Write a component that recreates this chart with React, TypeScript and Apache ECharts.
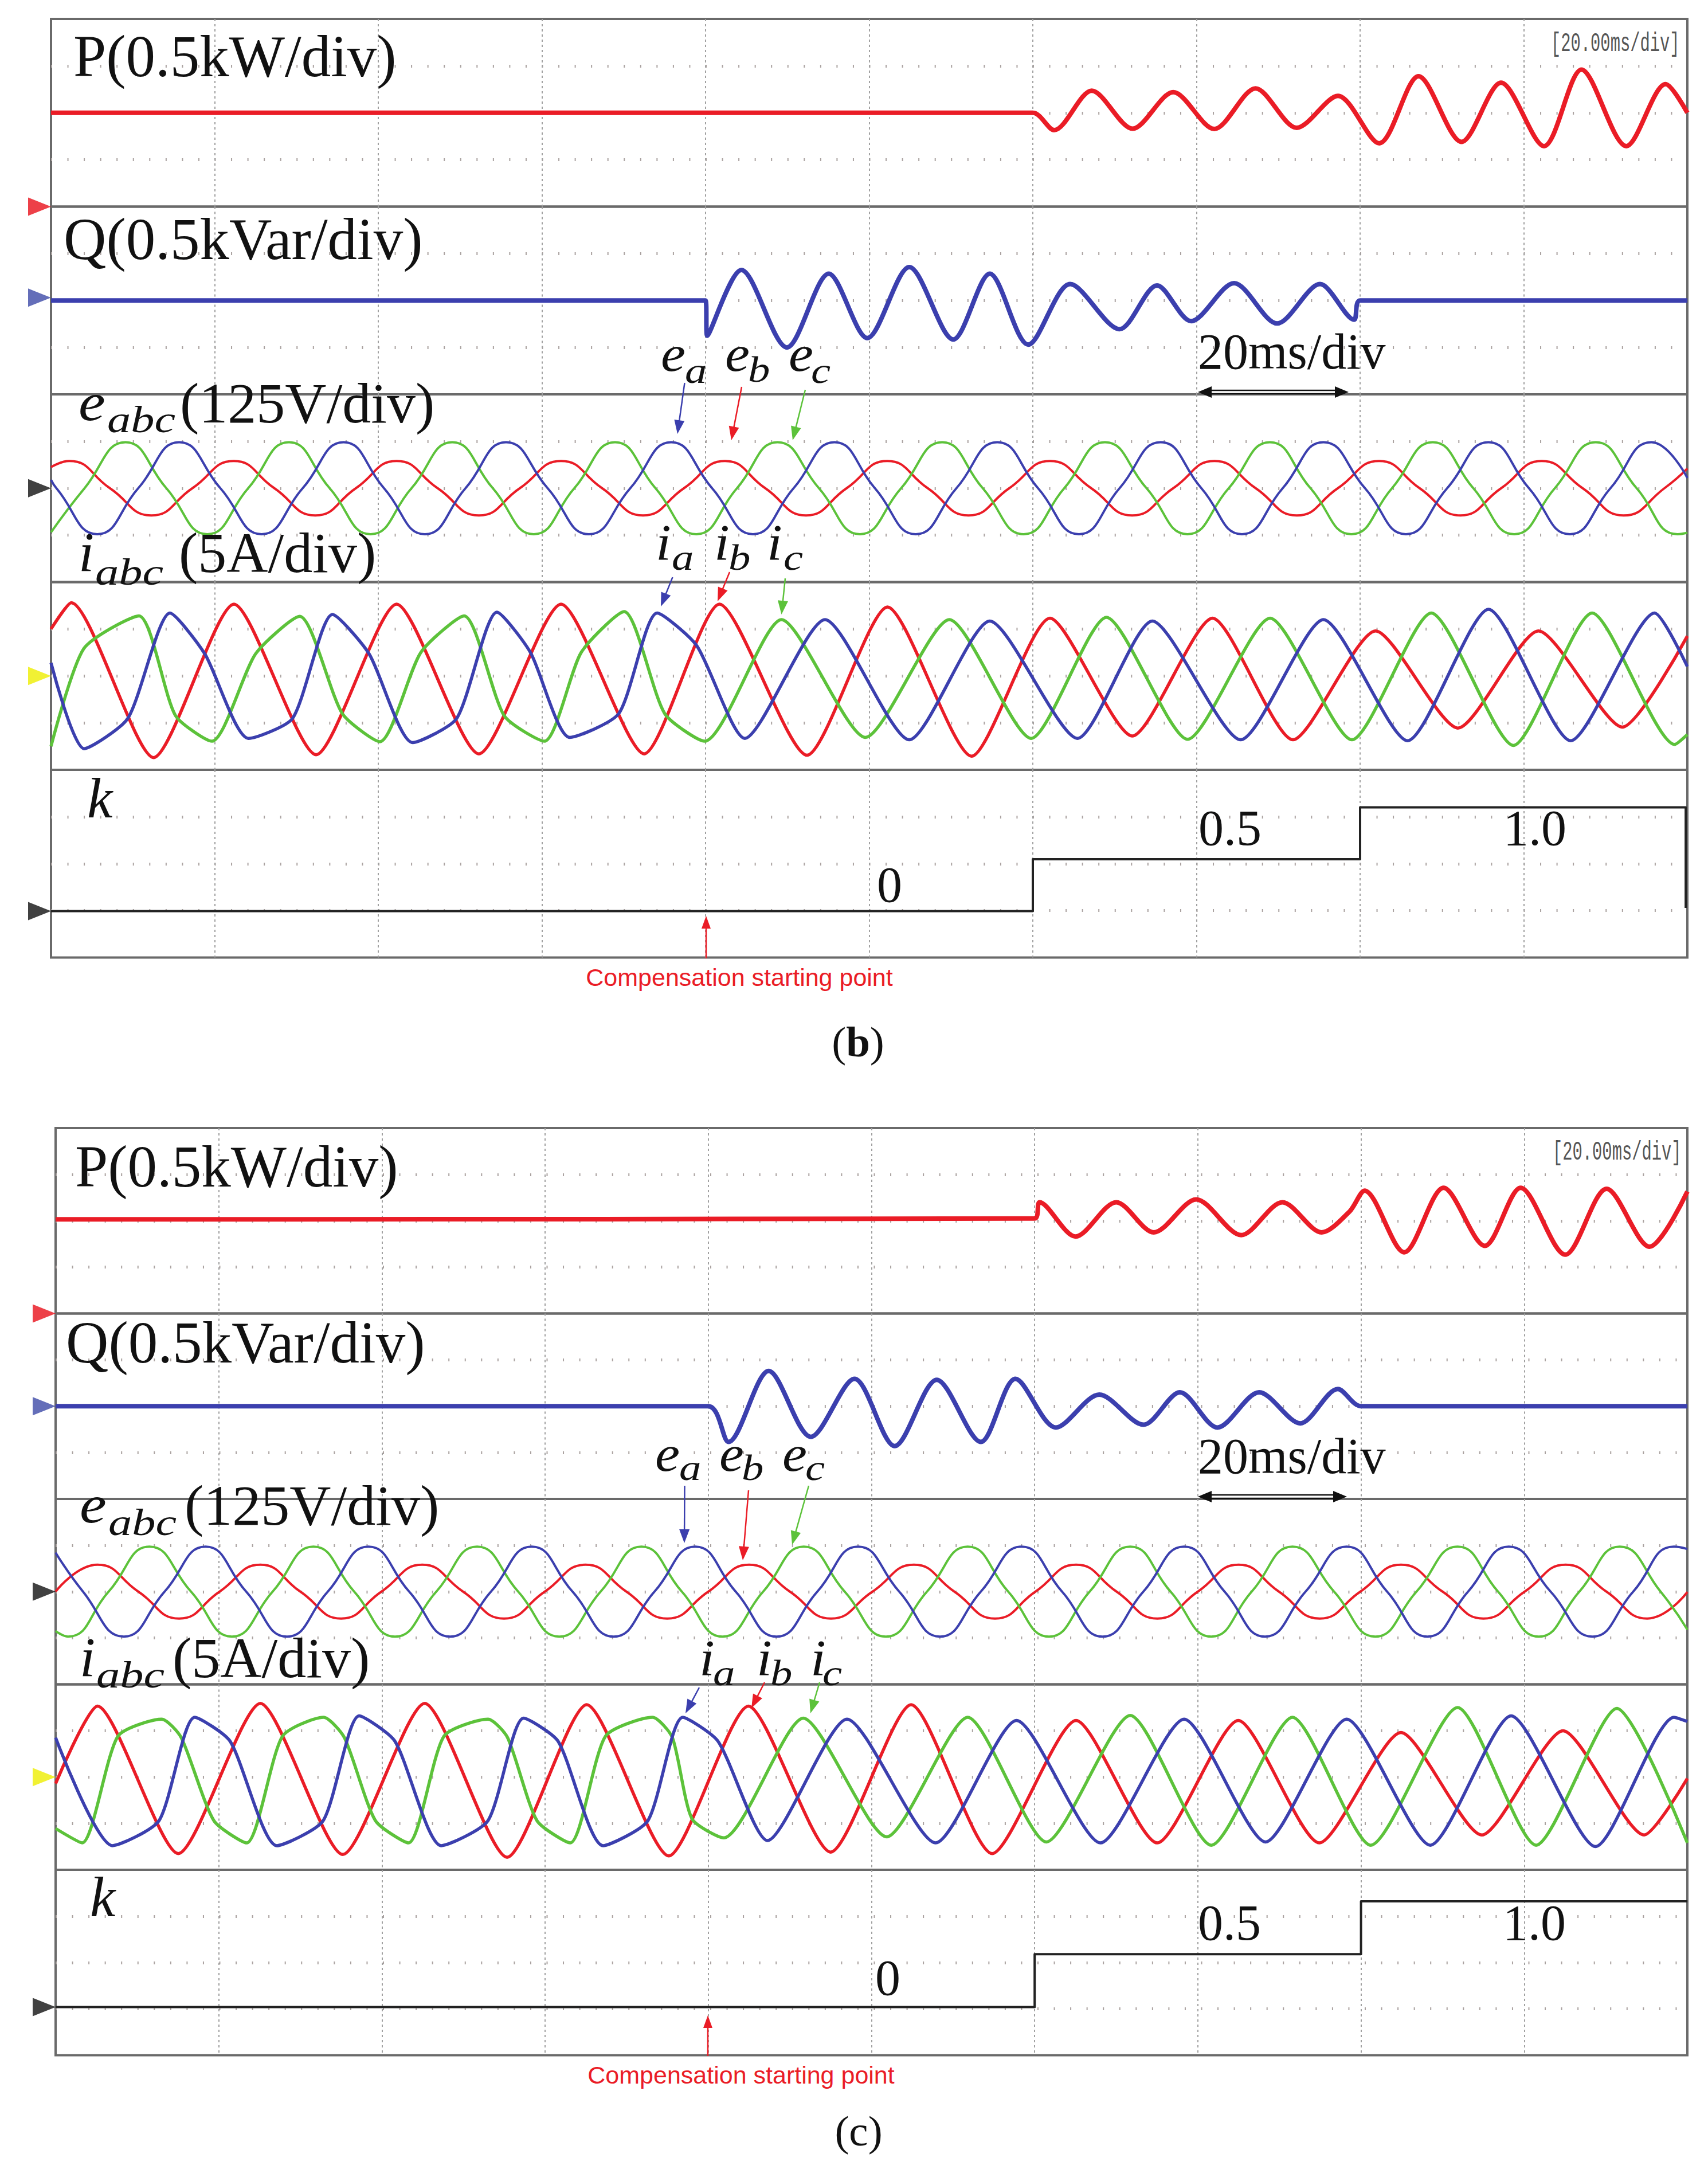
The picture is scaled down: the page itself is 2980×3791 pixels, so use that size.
import React, { useEffect, useRef } from "react";
import * as echarts from "echarts";

// ---------- DATA (time in divisions of 20 ms, values in vertical divisions of each band) ----------
// Panel (b)
const P_B = [[0,0],[6.0,0],[6.13,-0.37],[6.36,0.47],[6.61,-0.34],[6.858,0.44],[7.109,-0.345],[7.361,0.52],[7.613,-0.32],[7.865,0.36],[8.117,-0.65],[8.357,0.78],[8.62,-0.62],[8.861,0.64],[9.124,-0.71],[9.353,0.92],[9.627,-0.71],[9.867,0.61],[10,0]];
const Q_B = [[0,0],[4.0,0],[4.01,-0.75],[4.219,0.65],[4.497,-1.0],[4.753,0.57],[4.988,-0.8],[5.245,0.71],[5.514,-0.83],[5.737,0.57],[5.972,-0.94],[6.228,0.35],[6.53,-0.61],[6.759,0.32],[6.967,-0.44],[7.23,0.37],[7.493,-0.49],[7.755,0.35],[7.963,-0.41],[8.0,0],[10,0]];
const EB_B = [[0,0.45],[0.112,0.58],[0.36,0],[0.614,-0.58],[0.864,0],[1.117,0.58],[1.365,0],[1.615,-0.58],[1.863,0],[2.112,0.58],[2.363,0],[2.615,-0.58],[2.865,0],[3.117,0.58],[3.368,0],[3.618,-0.58],[3.868,0],[4.119,0.58],[4.365,0],[4.614,-0.58],[4.862,0],[5.11,0.58],[5.358,0],[5.607,-0.58],[5.856,0],[6.105,0.58],[6.357,0],[6.607,-0.58],[6.858,0],[7.11,0.58],[7.362,0],[7.613,-0.58],[7.864,0],[8.116,0.58],[8.364,0],[8.613,-0.58],[8.862,0],[9.11,0.58],[9.36,0],[9.61,-0.58],[9.86,0],[10,0.42]];
const EC_B = [[0,-0.94],[0.205,0],[0.455,0.98],[0.705,0],[0.955,-0.98],[1.205,0],[1.454,0.98],[1.703,0],[1.953,-0.98],[2.203,0],[2.452,0.98],[2.7,0],[2.95,-0.98],[3.198,0],[3.447,0.98],[3.694,0],[3.944,-0.98],[4.192,0],[4.44,0.98],[4.693,0],[4.943,-0.98],[5.195,0],[5.446,0.98],[5.694,0],[5.944,-0.98],[6.192,0],[6.441,0.98],[6.695,0],[6.945,-0.98],[7.197,0],[7.449,0.98],[7.697,0],[7.947,-0.98],[8.195,0],[8.444,0.98],[8.692,0],[8.942,-0.98],[9.19,0],[9.44,0.98],[9.69,0],[9.94,-0.98],[10,-0.95]];
const EA_B = [[0,0.18],[0.033,0],[0.283,-0.98],[0.533,0],[0.783,0.98],[1.035,0],[1.287,-0.98],[1.538,0],[1.788,0.98],[2.035,0],[2.285,-0.98],[2.533,0],[2.781,0.98],[3.035,0],[3.287,-0.98],[3.54,0],[3.79,0.98],[4.04,0],[4.29,-0.98],[4.538,0],[4.788,0.98],[5.035,0],[5.285,-0.98],[5.533,0],[5.783,0.98],[6.032,0],[6.282,-0.98],[6.53,0],[6.781,0.98],[7.03,0],[7.278,-0.98],[7.527,0],[7.776,0.98],[8.03,0],[8.28,-0.98],[8.532,0],[8.784,0.98],[9.032,0],[9.282,-0.98],[9.53,0],[9.78,0.98],[10,0.22]];
const IB_B = [[0,1.0],[0.124,1.56],[0.627,-1.74],[1.118,1.53],[1.62,-1.68],[2.112,1.53],[2.615,-1.66],[3.117,1.53],[3.625,-1.66],[4.085,1.53],[4.62,-1.69],[5.112,1.47],[5.626,-1.71],[6.105,1.23],[6.608,-1.28],[7.098,1.23],[7.59,-1.36],[8.095,0.96],[8.598,-1.11],[9.09,0.96],[9.603,-1.09],[10,0.85]];
const IC_B = [[0,-1.5],[0.2,0.58],[0.537,1.28],[0.76,-0.84],[0.984,-1.39],[1.25,0.47],[1.52,1.27],[1.78,-0.8],[2.01,-1.4],[2.26,0.5],[2.525,1.28],[2.77,-0.85],[3.016,-1.39],[3.24,0.5],[3.503,1.37],[3.75,-0.8],[3.995,-1.39],[4.464,1.2],[4.977,-1.31],[5.49,1.2],[5.99,-1.33],[6.45,1.25],[6.946,-1.35],[7.45,1.23],[7.95,-1.36],[8.435,1.34],[8.937,-1.48],[9.418,1.34],[9.923,-1.46],[10,-1.25]];
const IA_B = [[0,0.28],[0.202,-1.55],[0.47,-0.9],[0.727,1.34],[0.94,0.47],[1.207,-1.33],[1.477,-0.9],[1.72,1.31],[1.944,0.47],[2.21,-1.42],[2.48,-0.9],[2.725,1.36],[2.93,0.5],[3.17,-1.31],[3.47,-0.8],[3.704,1.34],[3.947,0.64],[4.24,-1.33],[4.73,1.2],[5.245,-1.36],[5.737,1.17],[6.273,-1.33],[6.73,1.17],[7.27,-1.36],[7.776,1.2],[8.29,-1.38],[8.785,1.42],[9.287,-1.38],[9.8,1.34],[10,0.2]];
const K_B = [[0,0],[6,0],[6,0.5],[8,0.5],[8,1],[9.99,1],[9.99,0.03]];

// Panel (c)
const P_C = [[0,0.03],[6.0,0.05],[6.03,0.4],[6.25,-0.34],[6.5,0.4],[6.73,-0.25],[6.99,0.46],[7.266,-0.31],[7.518,0.4],[7.759,-0.25],[7.93,0.2],[8.022,0.65],[8.265,-0.68],[8.506,0.71],[8.759,-0.54],[8.978,0.71],[9.252,-0.73],[9.505,0.69],[9.768,-0.56],[10,0.63]];
const Q_C = [[0,0],[4.0,0],[4.124,-0.77],[4.37,0.76],[4.628,-0.66],[4.896,0.59],[5.142,-0.86],[5.4,0.57],[5.67,-0.77],[5.882,0.59],[6.13,-0.46],[6.396,0.25],[6.667,-0.4],[6.89,0.3],[7.12,-0.46],[7.376,0.3],[7.628,-0.37],[7.858,0.37],[8.0,0],[10,0]];
const EB_C = [[0,0],[0.257,0.58],[0.507,0],[0.757,-0.58],[1.005,0],[1.255,0.58],[1.5,0],[1.75,-0.58],[1.997,0],[2.247,0.58],[2.497,0],[2.748,-0.58],[2.998,0],[3.248,0.58],[3.498,0],[3.748,-0.58],[4.0,0],[4.25,0.58],[4.5,0],[4.752,-0.58],[5.006,0],[5.26,0.58],[5.508,0],[5.757,-0.58],[6.005,0],[6.254,0.58],[6.502,0],[6.752,-0.58],[7.0,0],[7.25,0.58],[7.497,0],[7.747,-0.58],[7.996,0],[8.245,0.58],[8.5,0],[8.75,-0.58],[9.003,0],[9.254,0.58],[9.504,0],[9.754,-0.58],[10,-0.01]];
const EC_C = [[0,-0.85],[0.075,-0.97],[0.325,0],[0.575,0.97],[0.83,0],[1.08,-0.97],[1.33,0],[1.58,0.97],[1.83,0],[2.08,-0.97],[2.333,0],[2.583,0.97],[2.835,0],[3.087,-0.97],[3.34,0],[3.59,0.97],[3.838,0],[4.087,-0.97],[4.336,0],[4.585,0.97],[4.836,0],[5.088,-0.97],[5.34,0],[5.59,0.97],[5.838,0],[6.088,-0.97],[6.337,0],[6.586,0.97],[6.833,0],[7.083,-0.97],[7.33,0],[7.58,0.97],[7.835,0],[8.087,-0.97],[8.34,0],[8.592,0.97],[8.84,0],[9.09,-0.97],[9.338,0],[9.586,0.97],[9.836,0],[10,-0.82]];
const EA_C = [[0,0.84],[0.168,0],[0.418,-0.97],[0.668,0],[0.919,0.97],[1.168,0],[1.418,-0.97],[1.668,0],[1.917,0.97],[2.167,0],[2.418,-0.97],[2.668,0],[2.918,0.97],[3.168,0],[3.42,-0.97],[3.67,0],[3.92,0.97],[4.168,0],[4.418,-0.97],[4.668,0],[4.918,0.97],[5.17,0],[5.42,-0.97],[5.67,0],[5.92,0.97],[6.168,0],[6.416,-0.97],[6.666,0],[6.916,0.97],[7.164,0],[7.412,-0.97],[7.66,0],[7.912,0.97],[8.16,0],[8.408,-0.97],[8.656,0],[8.906,0.97],[9.162,0],[9.418,-0.97],[9.668,0],[9.918,0.97],[10,0.92]];
const IB_C = [[0,-0.14],[0.257,1.53],[0.752,-1.65],[1.255,1.59],[1.76,-1.67],[2.262,1.59],[2.767,-1.73],[3.255,1.56],[3.758,-1.7],[4.246,1.53],[4.75,-1.62],[5.243,1.56],[5.74,-1.65],[6.254,1.22],[6.751,-1.42],[7.248,1.22],[7.745,-1.42],[8.245,0.96],[8.74,-1.25],[9.238,1.0],[9.735,-1.25],[10,-0.03]];
const IC_C = [[0,-1.11],[0.163,-1.42],[0.382,0.88],[0.65,1.25],[0.77,0.85],[0.97,-0.94],[1.171,-1.42],[1.39,0.88],[1.642,1.29],[1.77,0.85],[1.96,-0.94],[2.163,-1.42],[2.38,0.88],[2.65,1.25],[2.77,0.85],[2.95,-0.94],[3.154,-1.42],[3.37,0.88],[3.658,1.29],[3.78,0.85],[3.9,-0.9],[4.095,-1.31],[4.582,1.27],[5.093,-1.29],[5.59,1.29],[6.072,-1.4],[6.586,1.33],[7.083,-1.47],[7.58,1.29],[8.06,-1.47],[8.592,1.5],[9.073,-1.47],[9.568,1.48],[10,-1.42]];
const IA_C = [[0,0.85],[0.348,-1.48],[0.634,-0.94],[0.852,1.29],[1.07,0.77],[1.356,-1.48],[1.64,-0.94],[1.86,1.32],[2.08,0.77],[2.364,-1.48],[2.65,-0.94],[2.868,1.27],[3.08,0.77],[3.355,-1.48],[3.63,-0.94],[3.843,1.29],[4.06,0.77],[4.363,-1.37],[4.85,1.25],[5.393,-1.42],[5.889,1.22],[6.403,-1.42],[6.916,1.25],[7.415,-1.4],[7.912,1.25],[8.425,-1.47],[8.92,1.32],[9.437,-1.5],[9.918,1.29],[10,1.2]];
const K_C = [[0,0],[6,0],[6,0.5],[8,0.5],[8,1],[10,1]];

// reference markers (channel offsets) per band: P, Q, e, i, k
const MARK_B = [-2, 0.06, 0, 0, 0];
const MARK_C = [-2, 0, 0, 0, 0];
const K_RANGE_B = [-0.448, 1.362];
const K_RANGE_C = [-0.456, 1.298];
const K_LEVEL_LABELS = ["0", "0.5", "1.0"];

// ---------- STYLE ----------
const RED = "#ea1c26";
const BLUE = "#3b3fae";
const GREEN = "#5cc23a";
const SERIF = '"Liberation Serif","Times New Roman",serif';
const SANS = '"Liberation Sans",Arial,sans-serif';
const MONO = '"Liberation Mono","DejaVu Sans Mono",monospace';

const PANELS = [
  { left: 89, width: 2855, top: 33, bandH: 327.5 },
  { left: 97, width: 2847, top: 1968, bandH: 323.5 },
];

function T(x: number, bl: number, text: string, fs: number, o: any = {}) {
  const c = o.c ?? 0.3375;
  return {
    type: "text", x, y: bl, z: 100, silent: true,
    scaleX: o.sx ?? 1, scaleY: o.sy ?? 1,
    style: {
      text, x: 0, y: -c * fs, fill: o.color ?? "#111",
      fontSize: fs, fontFamily: o.family ?? SERIF,
      fontStyle: o.italic ? "italic" : "normal",
      fontWeight: o.bold ? "bold" : "normal",
      align: o.align ?? "left", verticalAlign: "middle",
      textAlign: o.align ?? "left", textVerticalAlign: "middle",
      rich: o.rich,
    },
  };
}

function arrow(x1: number, y1: number, x2: number, y2: number, color: string, lw = 2.5, hl = 24, hw = 9) {
  const dx = x2 - x1, dy = y2 - y1, L = Math.hypot(dx, dy), ux = dx / L, uy = dy / L;
  const bx = x2 - ux * hl, by = y2 - uy * hl;
  return [
    { type: "line", z: 100, silent: true, shape: { x1, y1, x2: bx + ux * 2, y2: by + uy * 2 }, style: { stroke: color, lineWidth: lw } },
    { type: "polygon", z: 100, silent: true, shape: { points: [[x2, y2], [bx - uy * hw, by + ux * hw], [bx + uy * hw, by - ux * hw]] }, style: { fill: color } },
  ];
}

function dblArrow(x1: number, x2: number, y: number) {
  const hl = 24, hw = 10;
  return [
    { type: "line", z: 100, silent: true, shape: { x1: x1 + hl - 2, y1: y - 3, x2: x2 - hl + 2, y2: y - 3 }, style: { stroke: "#111", lineWidth: 2.5 } },
    { type: "line", z: 100, silent: true, shape: { x1: x1 + hl - 2, y1: y + 3, x2: x2 - hl + 2, y2: y + 3 }, style: { stroke: "#111", lineWidth: 2.5 } },
    { type: "polygon", z: 100, silent: true, shape: { points: [[x1, y], [x1 + hl, y - hw], [x1 + hl, y + hw]] }, style: { fill: "#111" } },
    { type: "polygon", z: 100, silent: true, shape: { points: [[x2, y], [x2 - hl, y - hw], [x2 - hl, y + hw]] }, style: { fill: "#111" } },
  ];
}

function subLabel(x: number, bl: number, main: string, sub: string, subX: number, subBl: number, fs = 88, sfs = 64) {
  return [
    T(x, bl, main, fs, { italic: true, sx: 1.1 }),
    T(subX, subBl, sub, sfs, { italic: true, sx: 1.2 }),
  ];
}

function panelGraphics(p: number) {
  const g: any[] = [];
  if (p === 0) {
    g.push(T(128, 133, "P(0.5kW/div)", 103));
    g.push(T(111, 452, "Q(0.5kVar/div)", 103));
    g.push(T(137, 733, "e", 94, { italic: true, sx: 1.12 }));
    g.push(T(187, 754, "abc", 66, { italic: true, sx: 1.25 }));
    g.push(T(314, 737, "(125V/div)", 100));
    g.push(T(137, 996, "i", 98, { italic: true }));
    g.push(T(166, 1020, "abc", 66, { italic: true, sx: 1.25 }));
    g.push(T(312, 998, "(5A/div)", 100));
    g.push(T(152, 1426, "k", 100, { italic: true }));
    g.push(T(1530, 1573, K_LEVEL_LABELS[0], 88));
    g.push(T(2091, 1474, K_LEVEL_LABELS[1], 88));
    g.push(T(2623, 1474, K_LEVEL_LABELS[2], 88));
    g.push(T(2090, 643, "20ms/div", 88));
    g.push(...dblArrow(2090, 2353, 684));
    g.push(T(2706, 89, "[20.00ms/div]", 30, { family: MONO, c: 0.2665, sy: 1.55, sx: 0.96, color: "#555" }));
    g.push(...subLabel(1153, 647, "e", "a", 1195, 668));
    g.push(...subLabel(1265, 647, "e", "b", 1305, 666));
    g.push(...subLabel(1376, 647, "e", "c", 1415, 668));
    g.push(...arrow(1194.5, 668, 1182, 757, BLUE));
    g.push(...arrow(1294, 675, 1276, 768, RED));
    g.push(...arrow(1405, 680, 1383, 768, GREEN));
    g.push(...subLabel(1144, 976, "i", "a", 1172, 994));
    g.push(...subLabel(1246, 976, "i", "b", 1271, 994));
    g.push(...subLabel(1338, 976, "i", "c", 1367, 994));
    g.push(...arrow(1173.5, 1007, 1153, 1058, BLUE));
    g.push(...arrow(1273, 998, 1252, 1049, RED));
    g.push(...arrow(1370, 1009, 1363.5, 1072, GREEN));
    g.push(...arrow(1232, 1672, 1232, 1598, RED, 2.5, 22, 8));
    g.push(T(1290, 1720, "Compensation starting point", 43, { family: SANS, c: 0.3465, color: RED, align: "center" }));
    g.push(T(1497, 1843, "{n|(}{b|b}{n|)}", 75, { align: "center", rich: { n: { fontSize: 75, fontFamily: SERIF }, b: { fontSize: 75, fontFamily: SERIF, fontWeight: "bold" } } }));
  } else {
    g.push(T(131, 2070, "P(0.5kW/div)", 103));
    g.push(T(115, 2377, "Q(0.5kVar/div)", 103));
    g.push(T(139, 2656, "e", 94, { italic: true, sx: 1.12 }));
    g.push(T(189, 2678, "abc", 66, { italic: true, sx: 1.25 }));
    g.push(T(322, 2660, "(125V/div)", 100));
    g.push(T(139, 2924, "i", 98, { italic: true }));
    g.push(T(168, 2944, "abc", 66, { italic: true, sx: 1.25 }));
    g.push(T(301, 2926, "(5A/div)", 100));
    g.push(T(157, 3343, "k", 100, { italic: true }));
    g.push(T(1527, 3480, K_LEVEL_LABELS[0], 88));
    g.push(T(2090, 3384, K_LEVEL_LABELS[1], 88));
    g.push(T(2622, 3384, K_LEVEL_LABELS[2], 88));
    g.push(T(2090, 2570, "20ms/div", 88));
    g.push(...dblArrow(2090, 2350, 2611));
    g.push(T(2709, 2023, "[20.00ms/div]", 30, { family: MONO, c: 0.2665, sy: 1.55, sx: 0.96, color: "#555" }));
    g.push(...subLabel(1143, 2566, "e", "a", 1185, 2582));
    g.push(...subLabel(1255, 2566, "e", "b", 1294, 2582));
    g.push(...subLabel(1365, 2566, "e", "c", 1405, 2582));
    g.push(...arrow(1194.5, 2592, 1194, 2692, BLUE));
    g.push(...arrow(1306, 2600, 1296, 2722, RED));
    g.push(...arrow(1411, 2592, 1382, 2695, GREEN));
    g.push(...subLabel(1220, 2922, "i", "a", 1244, 2940));
    g.push(...subLabel(1320, 2922, "i", "b", 1344, 2940));
    g.push(...subLabel(1414, 2922, "i", "c", 1435, 2940));
    g.push(...arrow(1220, 2944, 1196, 2989, BLUE));
    g.push(...arrow(1334, 2935, 1311, 2980, RED));
    g.push(...arrow(1430, 2935, 1414, 2989, GREEN));
    g.push(...arrow(1235, 3587, 1235, 3516, RED, 2.5, 22, 8));
    g.push(T(1293, 3635, "Compensation starting point", 43, { family: SANS, c: 0.3465, color: RED, align: "center" }));
    g.push(T(1498, 3743, "{n|(}{b|c}{n|)}", 75, { align: "center", rich: { n: { fontSize: 75, fontFamily: SERIF }, b: { fontSize: 75, fontFamily: SERIF } } }));
  }
  return g;
}

function buildOption() {
  const grid: any[] = [], xAxis: any[] = [], yAxis: any[] = [], series: any[] = [];
  const panelData = [
    { P: P_B, Q: Q_B, ea: EA_B, eb: EB_B, ec: EC_B, ia: IA_B, ib: IB_B, ic: IC_B, k: K_B, mark: MARK_B, kr: K_RANGE_B },
    { P: P_C, Q: Q_C, ea: EA_C, eb: EB_C, ec: EC_C, ia: IA_C, ib: IB_C, ic: IC_C, k: K_C, mark: MARK_C, kr: K_RANGE_C },
  ];
  const markColors = ["#e8101a", "#3d4aa8", "#111", "#eeee00", "#111"];
  const line = (data: any, gi: number, yi: number, color: string, width: number, smooth: any) => ({
    type: "line", data, xAxisIndex: gi, yAxisIndex: yi, showSymbol: false, symbol: "none",
    smooth, lineStyle: { color, width, join: "round" }, z: 5, silent: true,
  });
  PANELS.forEach((pn, p) => {
    for (let b = 0; b < 5; b++) {
      const gi = p * 5 + b;
      grid.push({ left: pn.left, top: pn.top + b * pn.bandH, width: pn.width, height: pn.bandH, show: true, borderColor: "#6a6a6a", borderWidth: 4, backgroundColor: "transparent" });
      xAxis.push({
        type: "value", gridIndex: gi, min: 0, max: 10, interval: 1,
        axisLine: { show: false }, axisTick: { show: false }, axisLabel: { show: false },
        splitLine: { show: true, showMinLine: false, showMaxLine: false, lineStyle: { color: "#a0a0a0", width: 2, type: [4, 5] } },
      });
      yAxis.push({
        type: "value", gridIndex: gi, min: -2, max: 2, interval: 1,
        axisLine: { show: false }, axisTick: { show: false }, axisLabel: { show: false },
        splitLine: { show: true, showMinLine: false, showMaxLine: false, lineStyle: { color: "#aaa2a0", width: 5, type: [2, 26.55] } },
      });
    }
  });
  PANELS.forEach((pn, p) => {
    yAxis.push({
      type: "value", gridIndex: p * 5 + 4, min: panelData[p].kr[0], max: panelData[p].kr[1], show: false,
      splitLine: { show: false },
    });
  });
  PANELS.forEach((pn, p) => {
    const d = panelData[p];
    const g0 = p * 5;
    const kAxis = 10 + p;
    series.push(line(d.P, g0, g0, RED, 8, 0.3));
    series.push(line(d.Q, g0 + 1, g0 + 1, BLUE, 8, 0.3));
    series.push(line(d.eb, g0 + 2, g0 + 2, RED, 4, 0.5));
    series.push(line(d.ec, g0 + 2, g0 + 2, GREEN, 4, 0.5));
    series.push(line(d.ea, g0 + 2, g0 + 2, BLUE, 4, 0.5));
    series.push(line(d.ib, g0 + 3, g0 + 3, RED, 5.5, 0.22));
    series.push(line(d.ic, g0 + 3, g0 + 3, GREEN, 5.5, 0.22));
    series.push(line(d.ia, g0 + 3, g0 + 3, BLUE, 5.5, 0.22));
    series.push(line(d.k, g0 + 4, kAxis, "#222", 4, false));
    for (let b = 0; b < 5; b++) {
      series.push({
        type: "scatter", xAxisIndex: g0 + b, yAxisIndex: b === 4 ? kAxis : g0 + b,
        data: [[0, d.mark[b]]], symbol: "path://M0,0L10,6L0,12Z", symbolSize: [40, 32], symbolOffset: [-20, 0],
        itemStyle: { color: markColors[b] }, clip: false, z: 20, silent: true,
      });
    }
  });
  return {
    animation: false,
    backgroundColor: "#ffffff",
    grid, xAxis, yAxis, series,
    graphic: { elements: [...panelGraphics(0), ...panelGraphics(1)] },
  };
}

export default function App() {
  const ref = useRef<HTMLDivElement>(null);
  useEffect(() => {
    if (!ref.current) return;
    const chart = echarts.init(ref.current, undefined, { renderer: "svg", width: 2980, height: 3791 });
    chart.setOption(buildOption() as any);
    return () => chart.dispose();
  }, []);
  return <div ref={ref} style={{ position: "absolute", left: 0, top: 0, width: 2980, height: 3791, background: "#fff" }} />;
}
